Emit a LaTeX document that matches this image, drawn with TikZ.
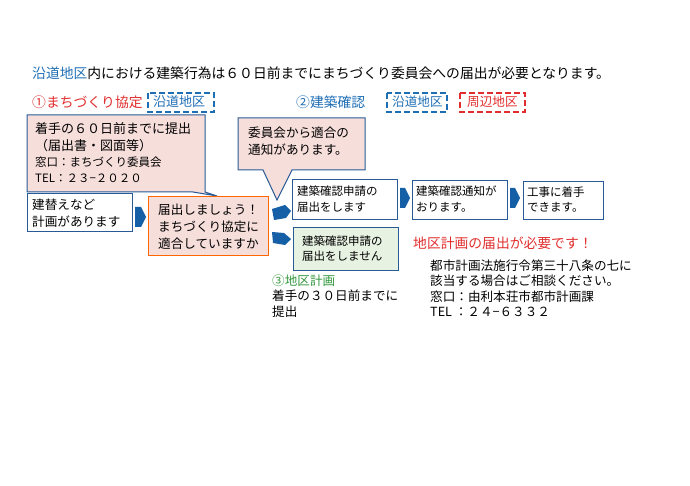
\documentclass[tikz,border=0pt]{standalone}
\usepackage{fontspec}
\setmainfont{Noto Sans CJK JP}
\begin{document}
\begin{tikzpicture}[x=1pt,y=-1pt,
  bl/.style={draw=bd,line width=1pt},
  txt/.style={anchor=west,inner sep=0pt,font=\fontsize{12.6}{15}\selectfont,align=left},
  sm/.style={txt,font=\fontsize{11.5}{13}\selectfont},
  hd/.style={txt,font=\fontsize{13.8}{16}\selectfont},
  arr/.style={fill=ab,draw=none},
  dbox/.style={dashed,dash pattern=on 6pt off 3pt,line width=1.6pt,draw=#1}]
\definecolor{pk}{RGB}{246,222,219}
\definecolor{gr}{RGB}{232,242,226}
\definecolor{tb}{RGB}{30,110,180}
\definecolor{tr}{RGB}{225,45,45}
\definecolor{tg}{RGB}{50,150,60}
\definecolor{ab}{RGB}{20,95,165}
\definecolor{bd}{RGB}{40,90,150}
\useasboundingbox (0,0) rectangle (690,486);
\node[hd] (title) at (32,73) {\textcolor{tb}{沿道地区}内における建築行為は６０日前までにまちづくり委員会への届出が必要となります。};
\node[hd,text=tr] (h1) at (32,102) {①まちづくり協定};
\draw[dbox=tb] (148,93) rectangle (214,112);
\node[hd,font=\fontsize{13}{15}\selectfont,text=tb] (z1) at (153,102) {沿道地区};
\node[hd,text=tb] (h2) at (296,102) {②建築確認};
\draw[dbox=tb] (387,93) rectangle (447,112);
\node[txt,text=tb] (z2) at (392,102) {沿道地区};
\draw[dbox=tr] (460,93) rectangle (525,112);
\node[txt,text=tr] (z3) at (467,102) {周辺地区};
% callout 1
\draw[bl,fill=pk] (27,115) -- (205,115) -- (205,192) -- (217,196) -- (193,192) -- (27,192) -- cycle;
\node[txt,font=\fontsize{13}{15}\selectfont] (c1) at (35,129) {着手の６０日前までに提出};
\node[txt,font=\fontsize{13}{15}\selectfont] (c1b) at (35,146) {（届出書・図面等）};
\node[sm] (c1c) at (35,162) {窓口：まちづくり委員会};
\node[sm] (c1d) at (35,178) {TEL：２３−２０２０};
% callout 2
\draw[bl,fill=pk] (238,118) -- (365,118) -- (365,170) -- (292,170) -- (277,200) -- (263,170) -- (238,170) -- cycle;
\node[txt] (c2) at (248,133) {委員会から適合の};
\node[txt] (c2b) at (248,150) {通知があります。};
% left boxes
\draw[bl,fill=white] (27,194) rectangle (132,232);
\node[txt] (a1) at (32,205) {建替えなど};
\node[txt] (a1b) at (32,222) {計画があります};
\draw[arr] (135,207) -- (141,207) -- (146,217) -- (141,227) -- (135,227) -- cycle;
\draw[draw=orange!80!red,line width=1pt,fill=pk] (148,197) rectangle (268,255);
\node[txt] (o1) at (158,210) {届出しましょう！};
\node[txt] (o2) at (158,227) {まちづくり協定に};
\node[txt] (o3) at (158,244) {適合していますか};
% small arrows
\draw[arr] (272,209) -- (285,205) -- (291,211) -- (286,218) -- (274,220) -- cycle;
\draw[arr] (272,232) -- (284,233) -- (291,239) -- (285,245) -- (273,243) -- cycle;
% row boxes
\draw[bl,fill=white] (292,180) rectangle (397,220);
\node[sm] (r1) at (297,191) {建築確認申請の};
\node[sm] (r1b) at (297,207) {届出をします};
\draw[arr] (400,188) -- (405,188) -- (410,198) -- (405,208) -- (400,208) -- cycle;
\draw[bl,fill=white] (412,181) rectangle (507,220);
\node[sm] (r2) at (416,191) {建築確認通知が};
\node[sm] (r2b) at (416,207) {おります。};
\draw[arr] (510,188) -- (515,188) -- (520,198) -- (515,208) -- (510,208) -- cycle;
\draw[bl,fill=white] (523,182) rectangle (603,220);
\node[sm] (r3) at (527,192) {工事に着手};
\node[sm] (r3b) at (527,207) {できます。};
\draw[bl,fill=gr] (293,228) rectangle (398,270);
\node[sm] (g1) at (302,241) {建築確認申請の};
\node[sm] (g1b) at (302,256) {届出をしません};
% bottom texts
\node[txt,text=tg] (h3) at (272,281) {③地区計画};
\node[txt] (b1) at (272,296) {着手の３０日前までに};
\node[txt] (b2) at (272,312) {提出};
\node[hd,text=tr] (red) at (413,243) {地区計画の届出が必要です！};
\node[txt] (t1) at (430,266) {都市計画法施行令第三十八条の七に};
\node[txt] (t2) at (430,281) {該当する場合はご相談ください。};
\node[txt] (t3) at (430,297) {窓口：由利本荘市都市計画課};
\node[txt] (t4) at (430,312) {TEL ：２４−６３３２};
\end{tikzpicture}
\end{document}
